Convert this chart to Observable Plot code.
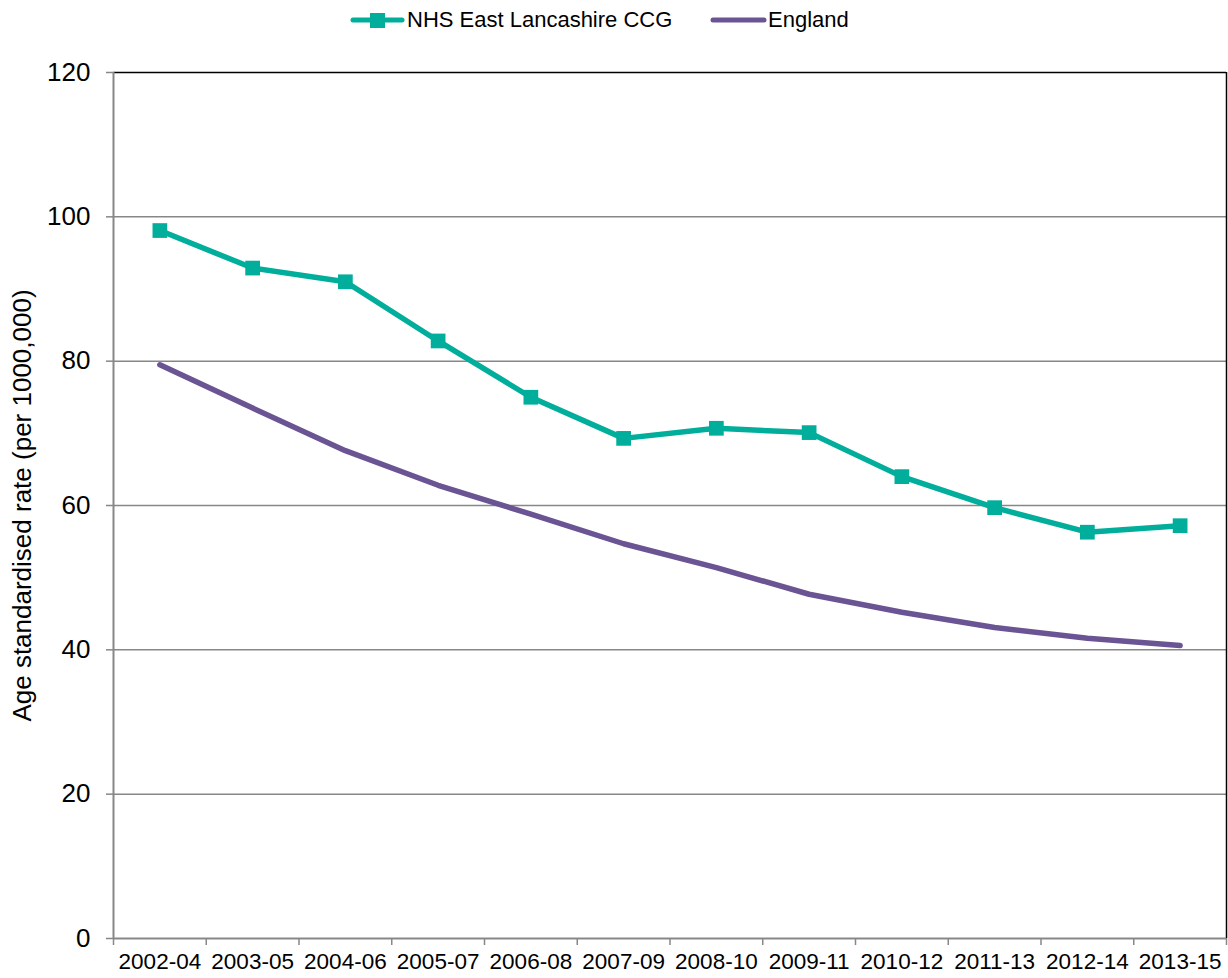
<!DOCTYPE html>
<html>
<head>
<meta charset="utf-8">
<script src="https://cdn.jsdelivr.net/npm/d3@7"></script>
<script src="https://cdn.jsdelivr.net/npm/@observablehq/plot@0.6"></script>
<style>
  body { margin: 0; background: #fff; font-family: "Liberation Sans", Arial, sans-serif; }
  #legend { position: relative; height: 40px; width: 1228px; }
  #legend .sw { position: absolute; top: 0; }
  #legend .lbl { position: absolute; top: 7px; font-size: 22px; line-height: 26px; color: #000; white-space: nowrap; }
</style>
</head>
<body>
<div id="legend"></div>
<div id="chart"></div>
<script>
const periods = ["2002-04","2003-05","2004-06","2005-07","2006-08","2007-09","2008-10","2009-11","2010-12","2011-13","2012-14","2013-15"];
const ccgValues = [98.1, 92.9, 91.0, 82.8, 75.0, 69.3, 70.7, 70.1, 64.0, 59.7, 56.3, 57.2];
const englandValues = [79.5, 73.5, 67.6, 62.8, 58.8, 54.7, 51.4, 47.7, 45.2, 43.1, 41.6, 40.6];
const yTicks = [0, 20, 40, 60, 80, 100, 120];
const seriesNames = ["NHS East Lancashire CCG", "England"];
const colors = ["#00AE9B", "#6A5493"];
const yTitle = "Age standardised rate (per 1000,000)";

const ccg = periods.map((p, i) => ({i, period: p, value: ccgValues[i]}));
const eng = periods.map((p, i) => ({i, period: p, value: englandValues[i]}));

// Legend
const legend = document.getElementById("legend");
legend.innerHTML = `
  <svg class="sw" style="left:350px" width="56" height="40">
    <line x1="3" y1="20" x2="52" y2="20" stroke="${colors[0]}" stroke-width="5" stroke-linecap="round"/>
    <rect x="20" y="13" width="15" height="15" fill="${colors[0]}"/>
  </svg>
  <div class="lbl" style="left:407px">${seriesNames[0]}</div>
  <svg class="sw" style="left:710px" width="58" height="40">
    <line x1="3" y1="20" x2="54" y2="20" stroke="${colors[1]}" stroke-width="5" stroke-linecap="round"/>
  </svg>
  <div class="lbl" style="left:768px">${seriesNames[1]}</div>
`;

const chart = Plot.plot({
  width: 1228,
  height: 938,
  marginTop: 32,
  marginBottom: 40,
  marginLeft: 113,
  marginRight: 2,
  style: {fontFamily: "Liberation Sans, Arial, sans-serif", color: "#000", background: "#fff"},
  x: {type: "linear", domain: [-0.5, periods.length - 0.5]},
  y: {domain: [0, 120]},
  marks: [
    Plot.gridY([20, 40, 60, 80, 100], {stroke: "#878787", strokeOpacity: 1, strokeWidth: 1.5}),
    Plot.ruleY([120], {stroke: "#000", strokeWidth: 1.5}),
    Plot.ruleX([periods.length - 0.5], {stroke: "#000", strokeWidth: 1.5}),
    Plot.ruleX([-0.5], {stroke: "#878787", strokeWidth: 2}),
    Plot.ruleY([0], {stroke: "#878787", strokeWidth: 2}),
    Plot.axisY(yTicks, {tickSize: 7, tickPadding: 16, fontSize: 26, stroke: "#878787", strokeWidth: 1.5, fill: "#000", label: null}),
    Plot.axisX(d3.range(-0.5, periods.length, 1), {tickSize: 7, tickFormat: () => "", stroke: "#878787", strokeWidth: 1.5, label: null}),
    Plot.axisX(d3.range(periods.length), {tickSize: 0, tickPadding: 15, tickFormat: i => periods[i], fontSize: 22.5, fill: "#000", label: null}),
    Plot.text([yTitle], {frameAnchor: "left", textAnchor: "middle", rotate: -90, dx: -91, fontSize: 26, fill: "#000"}),
    Plot.line(eng, {x: "i", y: "value", stroke: colors[1], strokeWidth: 5.5, strokeLinecap: "round", strokeLinejoin: "round"}),
    Plot.line(ccg, {x: "i", y: "value", stroke: colors[0], strokeWidth: 5.5, strokeLinejoin: "round"}),
    Plot.dot(ccg, {x: "i", y: "value", symbol: "square", r: 8.3, fill: colors[0], stroke: "none"})
  ]
});
document.getElementById("chart").appendChild(chart);
</script>
</body>
</html>
